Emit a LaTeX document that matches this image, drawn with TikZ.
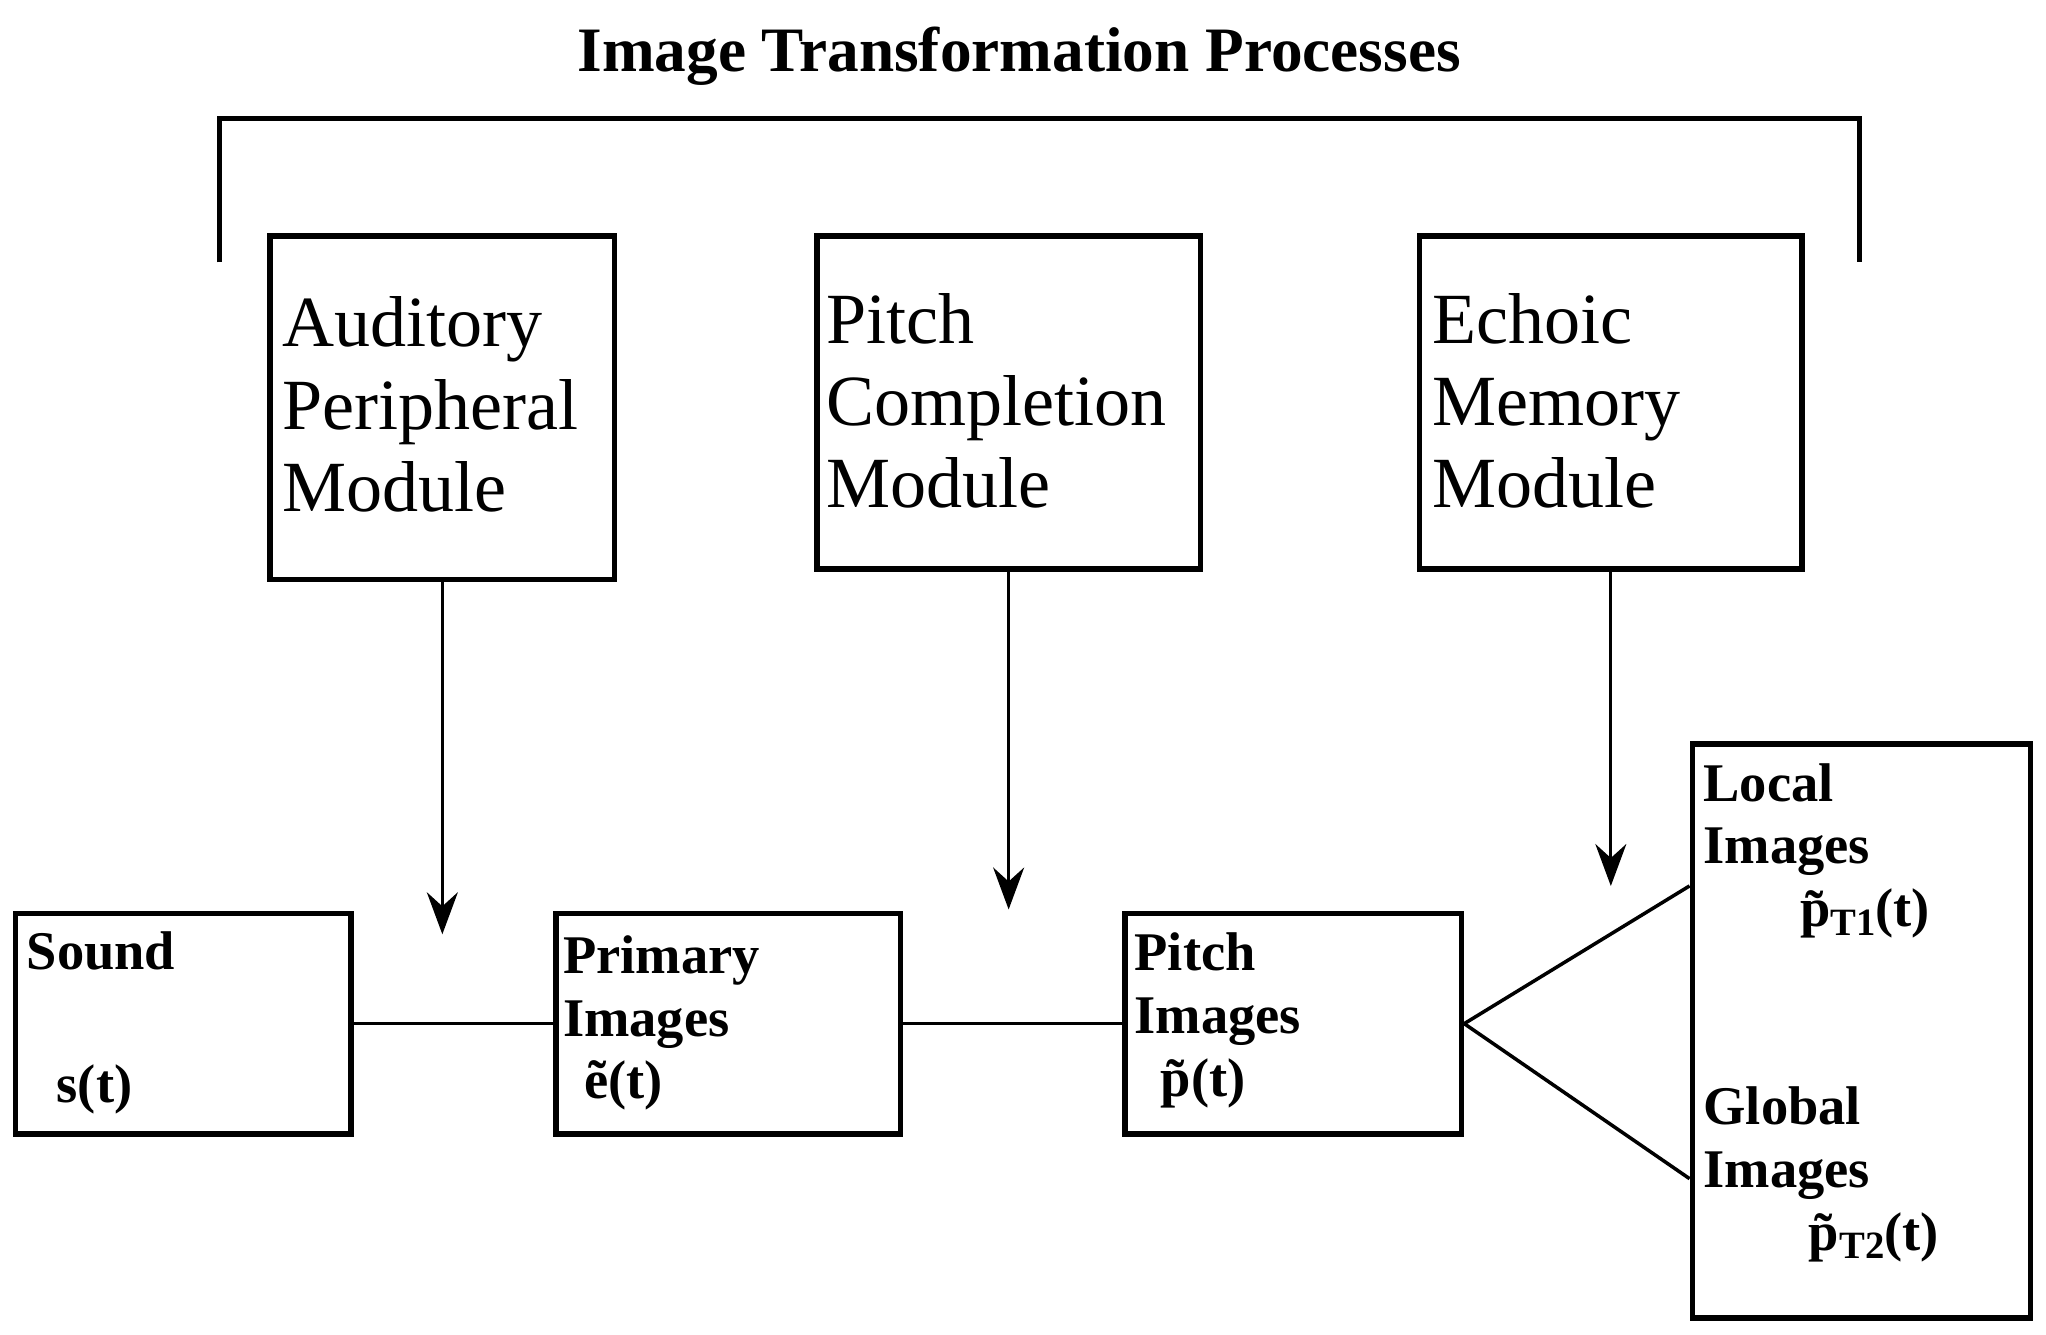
\documentclass[tikz,border=0pt]{standalone}
\usepackage{fontspec}
\setmainfont{Liberation Serif}
\usetikzlibrary{positioning,fit,calc,arrows.meta}

\newcommand{\subT}[1]{\raisebox{-0.35ex}{\fontsize{11}{11}\selectfont #1}}

\begin{document}
\begin{tikzpicture}[x=0.013048cm,y=-0.013048cm,
    modbox/.style={draw,line width=1.6pt,inner sep=0pt},
    bigtext/.style={anchor=base west,inner sep=0pt,align=left,font=\fontsize{20.5}{23.4}\selectfont},
    smalltext/.style={anchor=base west,inner sep=0pt,align=left,font=\bfseries\fontsize{15.5}{17.8}\selectfont},
    link/.style={line width=0.8pt},
    fan/.style={line width=1pt},
    flow/.style={line width=0.8pt,-{Stealth[length=0.42cm,width=0.31cm,inset=0.14cm]}}]
    \useasboundingbox (0,0) rectangle (1568,1023);

    % Title and bracket
    \node[anchor=base,inner sep=0pt,font=\bfseries\fontsize{18}{20}\selectfont] (title) at (781,55) {Image Transformation Processes};
    \draw[line width=1.3pt] (168,201) -- (168,91) -- (1425,91) -- (1425,201);

    % Modules
    \node[modbox,fit={(207,181) (471,444)}] (aud) {};
    \node[bigtext] (audtxt) at (216,392) {Auditory\\Peripheral\\Module};
    \node[modbox,fit={(626,181) (920,436)}] (pcm) {};
    \node[bigtext] (pcmtxt) at (633,389) {Pitch\\Completion\\Module};
    \node[modbox,fit={(1088,181) (1381,436)}] (ech) {};
    \node[bigtext] (echtxt) at (1097,389) {Echoic\\Memory\\Module};

    % Images
    \node[modbox,fit={(12,700) (269,869)}] (snd) {};
    \node[smalltext] (sndtxt) at (20,845) {Sound\\[20pt]\hspace*{8.5pt}s(t)};
    \node[modbox,fit={(426,700) (690,869)}] (prim) {};
    \node[smalltext] (primtxt) at (431,842) {Primary\\Images\\\hspace*{6pt}\~e(t)};
    \node[modbox,fit={(862,700) (1120,869)}] (pimg) {};
    \node[smalltext] (pimgtxt) at (869,840) {Pitch\\Images\\\hspace*{7.5pt}\~p(t)};
    \node[modbox,fit={(1297,570) (1556,1010)}] (out) {};
    \node[smalltext] (loctxt) at (1305,710) {Local\\Images\\\hspace*{27.5pt}\~p\subT{T1}(t)};
    \node[smalltext] (globtxt) at (1305,958) {Global\\Images\\\hspace*{30pt}\~p\subT{T2}(t)};

    % Arrows
    \coordinate (audtip) at (339,716);
    \coordinate (pcmtip) at (773,697);
    \coordinate (echtip) at (1234.5,679);
    \draw[flow] (aud.south) -- (audtip);
    \draw[flow] (pcm.south) -- (pcmtip);
    \draw[flow] (ech.south) -- (echtip);

    % Lines
    \draw[link] (snd.east) -- (prim.west);
    \draw[link] (prim.east) -- (pimg.west);
    \draw[fan] (pimg.east) -- ($(out.north west)!0.25!(out.south west)$);
    \draw[fan] (pimg.east) -- ($(out.north west)!0.755!(out.south west)$);
\end{tikzpicture}
\end{document}
